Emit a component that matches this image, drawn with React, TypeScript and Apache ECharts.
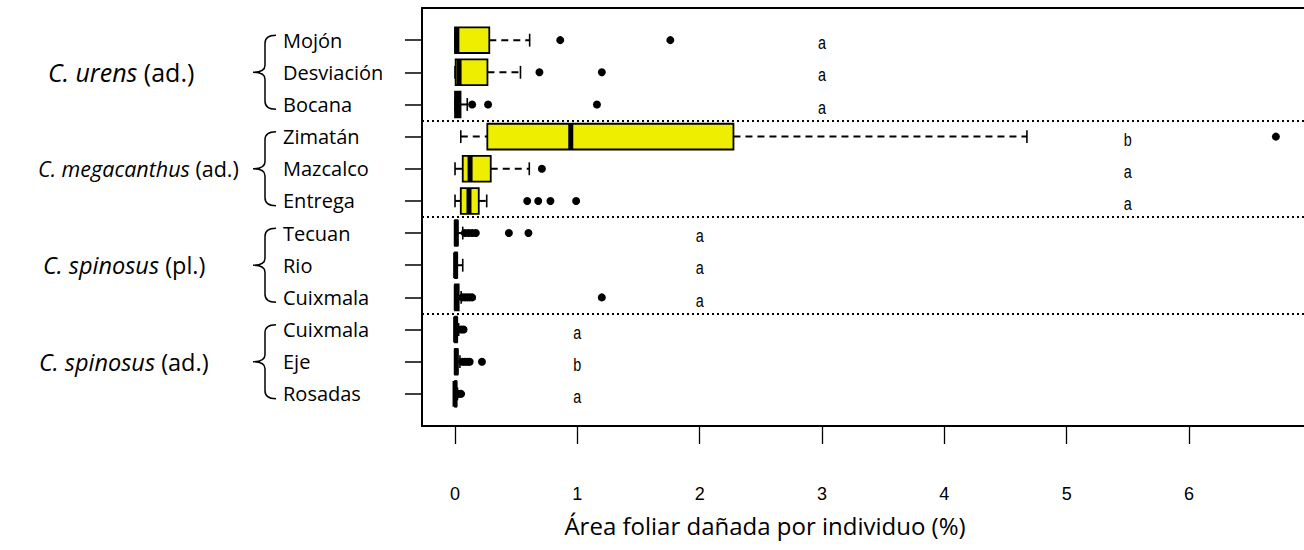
import React, { useEffect, useRef } from "react";
import * as echarts from "echarts";

// ---------- data ----------
const sites = ["Mojón", "Desviación", "Bocana", "Zimatán", "Mazcalco", "Entrega", "Tecuan", "Rio", "Cuixmala", "Cuixmala", "Eje", "Rosadas"];
const whiskerLow = [0, 0, 0, 0.047, 0, 0, 0, 0, 0, 0, 0, 0];
const q1 = [0, 0.005, 0, 0.264, 0.063, 0.047, 0, 0, 0, 0, 0, 0];
const median = [0.015, 0.033, 0.02, 0.946, 0.123, 0.114, 0.01, 0.005, 0.01, 0.005, 0.01, 0];
const q3 = [0.28, 0.265, 0.045, 2.276, 0.292, 0.194, 0.02, 0.015, 0.03, 0.015, 0.02, 0.01];
const whiskerHigh = [0.61, 0.535, 0.1, 4.675, 0.607, 0.259, 0.063, 0.063, 0.05, 0.03, 0.04, 0.02];
const outliers = [
  [0.86, 1.76],
  [0.69, 1.2],
  [0.14, 0.27, 1.16],
  [6.71],
  [0.71],
  [0.59, 0.68, 0.78, 0.99],
  [0.08, 0.11, 0.14, 0.17, 0.44, 0.6],
  [],
  [0.06, 0.08, 0.1, 0.12, 0.14, 1.2],
  [0.05, 0.07],
  [0.06, 0.08, 0.1, 0.12, 0.22],
  [0.03, 0.05],
];
const letters = ["a", "a", "a", "b", "a", "a", "a", "a", "a", "a", "b", "a"];
const letterPos = [3, 3, 3, 5.5, 5.5, 5.5, 2, 2, 2, 1, 1, 1];
const groupSpecies = ["C. urens", "C. megacanthus", "C. spinosus", "C. spinosus"];
const groupStage = ["(ad.)", "(ad.)", "(pl.)", "(ad.)"];
const groupRow = [2, 5, 8, 11];
const groupLeft = [48, 38, 43, 39];
const groupFontSize = [25, 21.5, 23.5, 23.5];
const separators = [3.5, 6.5, 9.5];
const xTicks = [0, 1, 2, 3, 4, 5, 6];
const rowTicks = sites.map((_, i) => i + 1);
const xTitle = "Área foliar dañada por individuo (%)";

const SANS = "'Open Sans', 'Noto Sans', sans-serif";
const NARROW = "'Liberation Sans Narrow', 'Liberation Sans', sans-serif";

echarts.graphic.registerShape(
  "brace",
  echarts.graphic.extendPath("M 23 -37 Q 12 -37 12 -29 L 12 -7 Q 12 0 0 0 Q 12 0 12 7 L 12 29 Q 12 37 23 37", {})
);

export default function App() {
  const ref = useRef<HTMLDivElement>(null);
  useEffect(() => {
    document.body.style.margin = "0";
    const chart = echarts.init(ref.current!, null, { renderer: "svg" });
    const boxData = sites.map((_, i) => [i + 1, whiskerLow[i], q1[i], median[i], q3[i], whiskerHigh[i]]);
    const outlierData = outliers.flatMap((vals, i) => vals.map((v) => [v, i + 1]));
    const letterData = letters.map((l, i) => [letterPos[i], i + 1, l]);

    const option: any = {
      animation: false,
      grid: { left: 422, top: 8, right: 0, bottom: 124, containLabel: false },
      xAxis: [
        {
          type: "value",
          min: -0.27,
          max: 6.94,
          position: "bottom",
          axisLine: { show: true, onZero: false, lineStyle: { color: "#000", width: 2 } },
          axisTick: { show: true, customValues: xTicks, length: 18, lineStyle: { color: "#000", width: 1.3 } },
          axisLabel: { show: true, customValues: xTicks, margin: 59, fontFamily: NARROW, fontSize: 18, color: "#000" },
          splitLine: { show: false },
        },
        {
          type: "value",
          min: -0.27,
          max: 6.94,
          position: "top",
          axisLine: { show: true, onZero: false, lineStyle: { color: "#000", width: 2 } },
          axisTick: { show: false },
          axisLabel: { show: false },
          splitLine: { show: false },
        },
      ],
      yAxis: {
        type: "value",
        inverse: true,
        min: 0,
        max: 13,
        axisLine: { show: true, onZero: false, lineStyle: { color: "#000", width: 2 } },
        axisTick: { show: true, customValues: rowTicks, length: 17, lineStyle: { color: "#000", width: 1.5 } },
        axisLabel: {
          show: true,
          customValues: rowTicks,
          formatter: (v: number) => sites[Math.round(v) - 1] ?? "",
          align: "left",
          margin: 139,
          fontFamily: SANS,
          fontSize: 20,
          color: "#000",
        },
        splitLine: { show: false },
      },
      series: [
        {
          type: "custom",
          name: "box",
          data: boxData,
          encode: { x: [1, 2, 3, 4, 5], y: 0 },
          renderItem: (params: any, api: any) => {
            const row = api.value(0);
            const px = (v: number) => api.coord([v, row])[0];
            const y = api.coord([0, row])[1];
            const h = api.size([0, 1])[1] * 0.8;
            const lo = px(api.value(1));
            const a = px(api.value(2));
            const m = px(api.value(3));
            const b = px(api.value(4));
            const hi = px(api.value(5));
            const dash = { stroke: "#000", lineWidth: 2, lineDash: [7, 5] };
            const solid = { stroke: "#000", lineWidth: 1.6 };
            return {
              type: "group",
              children: [
                { type: "line", shape: { x1: lo, y1: y, x2: a, y2: y }, style: dash },
                { type: "line", shape: { x1: b, y1: y, x2: hi, y2: y }, style: dash },
                { type: "line", shape: { x1: lo, y1: y - h / 4, x2: lo, y2: y + h / 4 }, style: solid },
                { type: "line", shape: { x1: hi, y1: y - h / 4, x2: hi, y2: y + h / 4 }, style: solid },
                {
                  type: "rect",
                  shape: { x: a, y: y - h / 2, width: Math.max(b - a, 0.5), height: h },
                  style: { fill: "#EEEE00", stroke: "#000", lineWidth: 1.8 },
                },
                { type: "line", shape: { x1: m, y1: y - h / 2, x2: m, y2: y + h / 2 }, style: { stroke: "#000", lineWidth: 5 } },
              ],
            };
          },
          z: 3,
        },
        {
          type: "scatter",
          name: "outliers",
          data: outlierData,
          symbol: "circle",
          symbolSize: 8,
          itemStyle: { color: "#000", opacity: 1 },
          z: 4,
          markLine: {
            silent: true,
            symbol: ["none", "none"],
            label: { show: false },
            lineStyle: { color: "#000", type: [2, 3], width: 2, opacity: 1 },
            data: separators.map((s) => ({ yAxis: s })),
          },
        },
        {
          type: "custom",
          name: "letters",
          data: letterData,
          encode: { x: 0, y: 1 },
          renderItem: (params: any, api: any) => {
            const p = api.coord([api.value(0), api.value(1)]);
            return {
              type: "text",
              x: p[0],
              y: p[1] + 3,
              scaleX: 0.8,
              scaleY: 1.05,
              style: {
                text: letters[params.dataIndex],
                fill: "#000",
                font: `18px ${NARROW}`,
                align: "center",
                verticalAlign: "middle",
              },
            };
          },
          z: 5,
        },
      ],
    };
    chart.setOption(option);

    const graphics: any[] = [];
    groupRow.forEach((r, i) => {
      const y = chart.convertToPixel({ yAxisIndex: 0 }, r) as number;
      const fs = groupFontSize[i];
      graphics.push({
        type: "brace",
        x: 253,
        y,
        style: { stroke: "#000", fill: "none", lineWidth: 1.5 },
      });
      graphics.push({
        type: "text",
        x: groupLeft[i],
        y,
        style: {
          text: `{i|${groupSpecies[i]}} {n|${groupStage[i]}}`,
          rich: {
            i: { fontStyle: "italic", fontSize: fs, fontFamily: SANS, fill: "#000" },
            n: { fontSize: fs, fontFamily: SANS, fill: "#000" },
          },
          font: `${fs}px ${SANS}`,
          fill: "#000",
          align: "left",
          verticalAlign: "middle",
        },
      });
    });
    graphics.push({
      type: "text",
      x: 765,
      y: 525,
      style: { text: xTitle, font: `24px ${SANS}`, fill: "#000", align: "center", verticalAlign: "middle" },
    });
    chart.setOption({ graphic: graphics });
    return () => chart.dispose();
  }, []);
  return <div ref={ref} style={{ width: 1304, height: 550 }} />;
}
